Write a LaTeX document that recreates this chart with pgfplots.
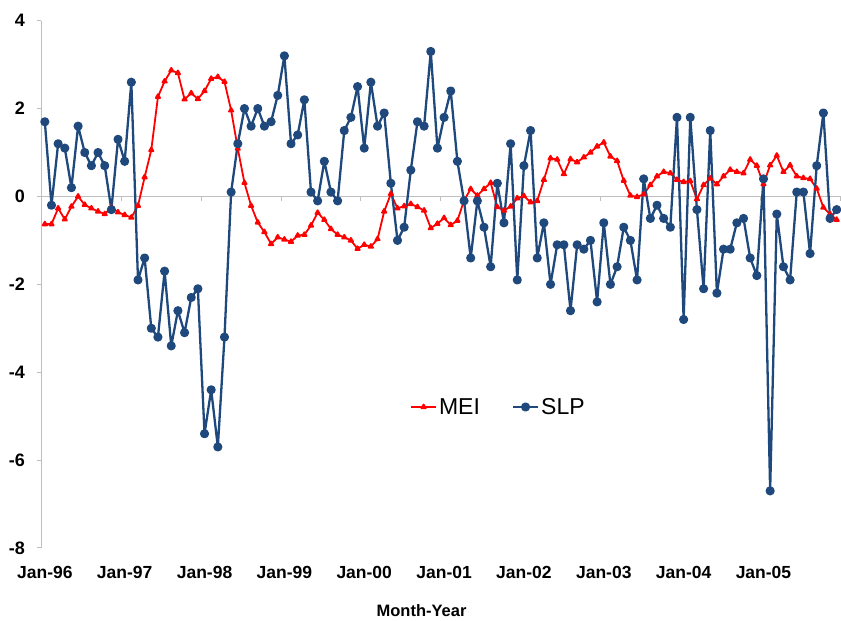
\documentclass[border=0pt]{standalone}
\usepackage{fontspec}
\setmainfont{Liberation Sans}
\usepackage{pgfplots}
\usepackage{pgfplotstable}
\pgfplotsset{compat=1.18}
\definecolor{slpblue}{HTML}{1F497D}
\definecolor{axgray}{HTML}{BFBFBF}

\pgfplotstableread{
x mei slp
0 -0.63 1.7
1 -0.63 -0.2
2 -0.27 1.2
3 -0.52 1.1
4 -0.23 0.2
5 0.00 1.6
6 -0.19 1.0
7 -0.27 0.7
8 -0.34 1.0
9 -0.40 0.7
10 -0.25 -0.3
11 -0.36 1.3
12 -0.42 0.8
13 -0.48 2.6
14 -0.21 -1.9
15 0.44 -1.4
16 1.06 -3.0
17 2.27 -3.2
18 2.62 -1.7
19 2.87 -3.4
20 2.81 -2.6
21 2.21 -3.1
22 2.35 -2.3
23 2.22 -2.1
24 2.40 -5.4
25 2.68 -4.4
26 2.72 -5.7
27 2.61 -3.2
28 1.96 0.1
29 1.09 1.2
30 0.31 2.0
31 -0.21 1.6
32 -0.59 2.0
33 -0.81 1.6
34 -1.08 1.7
35 -0.93 2.3
36 -0.98 3.2
37 -1.03 1.2
38 -0.89 1.4
39 -0.87 2.2
40 -0.66 0.1
41 -0.37 -0.1
42 -0.53 0.8
43 -0.74 0.1
44 -0.87 -0.1
45 -0.93 1.5
46 -1.00 1.8
47 -1.19 2.5
48 -1.10 1.1
49 -1.14 2.6
50 -0.97 1.6
51 -0.34 1.9
52 0.06 0.3
53 -0.27 -1.0
54 -0.22 -0.7
55 -0.17 0.6
56 -0.24 1.7
57 -0.32 1.6
58 -0.72 3.3
59 -0.62 1.1
60 -0.49 1.8
61 -0.65 2.4
62 -0.55 0.8
63 -0.09 -0.1
64 0.17 -1.4
65 0.02 -0.1
66 0.17 -0.7
67 0.31 -1.6
68 -0.24 0.3
69 -0.32 -0.6
70 -0.23 1.2
71 -0.04 -1.9
72 0.01 0.7
73 -0.13 1.5
74 -0.10 -1.4
75 0.38 -0.6
76 0.87 -2.0
77 0.84 -1.1
78 0.51 -1.1
79 0.85 -2.6
80 0.78 -1.1
81 0.89 -1.2
82 1.00 -1.0
83 1.14 -2.4
84 1.23 -0.6
85 0.91 -2.0
86 0.81 -1.6
87 0.36 -0.7
88 0.02 -1.0
89 -0.01 -1.9
90 0.05 0.4
91 0.26 -0.5
92 0.46 -0.2
93 0.56 -0.5
94 0.53 -0.7
95 0.38 1.8
96 0.33 -2.8
97 0.35 1.8
98 -0.06 -0.3
99 0.26 -2.1
100 0.41 1.5
101 0.28 -2.2
102 0.46 -1.2
103 0.61 -1.2
104 0.56 -0.6
105 0.53 -0.5
106 0.84 -1.4
107 0.70 -1.8
108 0.28 0.4
109 0.71 -6.7
110 0.93 -0.4
111 0.56 -1.6
112 0.71 -1.9
113 0.46 0.1
114 0.42 0.1
115 0.40 -1.3
116 0.18 0.7
117 -0.25 1.9
118 -0.40 -0.5
119 -0.53 -0.3
}\datatable

\begin{document}
\begin{tikzpicture}
\useasboundingbox (-41.5pt,-73pt) rectangle (799.5pt,548pt);
\begin{axis}[name=ax, at={(0pt,0pt)}, anchor=south west,
  scale only axis, width=798.5pt, height=527.3pt,
  xmin=-0.5, xmax=119.5, ymin=-8, ymax=4,
  axis y line*=left, axis x line*=bottom,
  x axis line style={draw=none},
  y axis line style={draw=axgray, line width=1pt},
  xtick={0,12,...,108},
  xticklabels={Jan-96,Jan-97,Jan-98,Jan-99,Jan-00,Jan-01,Jan-02,Jan-03,Jan-04,Jan-05},
  x tick style={draw=none},
  ytick={-8,-6,...,4},
  y tick style={draw=axgray, line width=1pt},
  tick align=outside, major tick length=5pt,
  /pgf/number format/assume math mode=true,
  xticklabel style={font=\fontsize{17.5}{20}\selectfont\bfseries, yshift=-10pt},
  yticklabel style={font=\fontsize{18}{21}\selectfont\bfseries, xshift=-8pt},
  xlabel={Month-Year},
  xlabel style={font=\fontsize{16.5}{19}\selectfont\bfseries, at={(axis description cs:0.476,-0.119)}, anchor=center},
  clip=false,
  legend columns=2,
  legend cell align=left,
  legend style={draw=none, fill=none, at={(0.4615,0.2674)}, anchor=west, inner sep=0pt,
    font=\fontsize{23}{27}\selectfont,
    nodes={inner sep=2pt},
    /tikz/every even column/.append style={column sep=30pt}},
  legend image code/.code={\draw[mark repeat=2,mark phase=2,#1] plot coordinates {(0pt,0pt) (12.5pt,0pt) (25pt,0pt)};},
]
\draw[axgray, line width=1.2pt] (axis cs:-0.5,0) -- (axis cs:119.5,0);
\pgfplotsinvokeforeach{11.5,23.5,...,119.5}{\draw[axgray, line width=1pt] (axis cs:#1,0) -- ++(0pt,-5pt);}
\addplot[red, line width=1.8pt, line join=round, mark=triangle*, mark size=2.5pt, mark options={solid}] table[x=x,y=mei]{\datatable};
\addplot[slpblue, line width=2.3pt, line join=round, mark=*, mark size=3.4pt, mark options={solid}] table[x=x,y=slp]{\datatable};
\legend{MEI, SLP}
\end{axis}
\end{tikzpicture}
\end{document}
